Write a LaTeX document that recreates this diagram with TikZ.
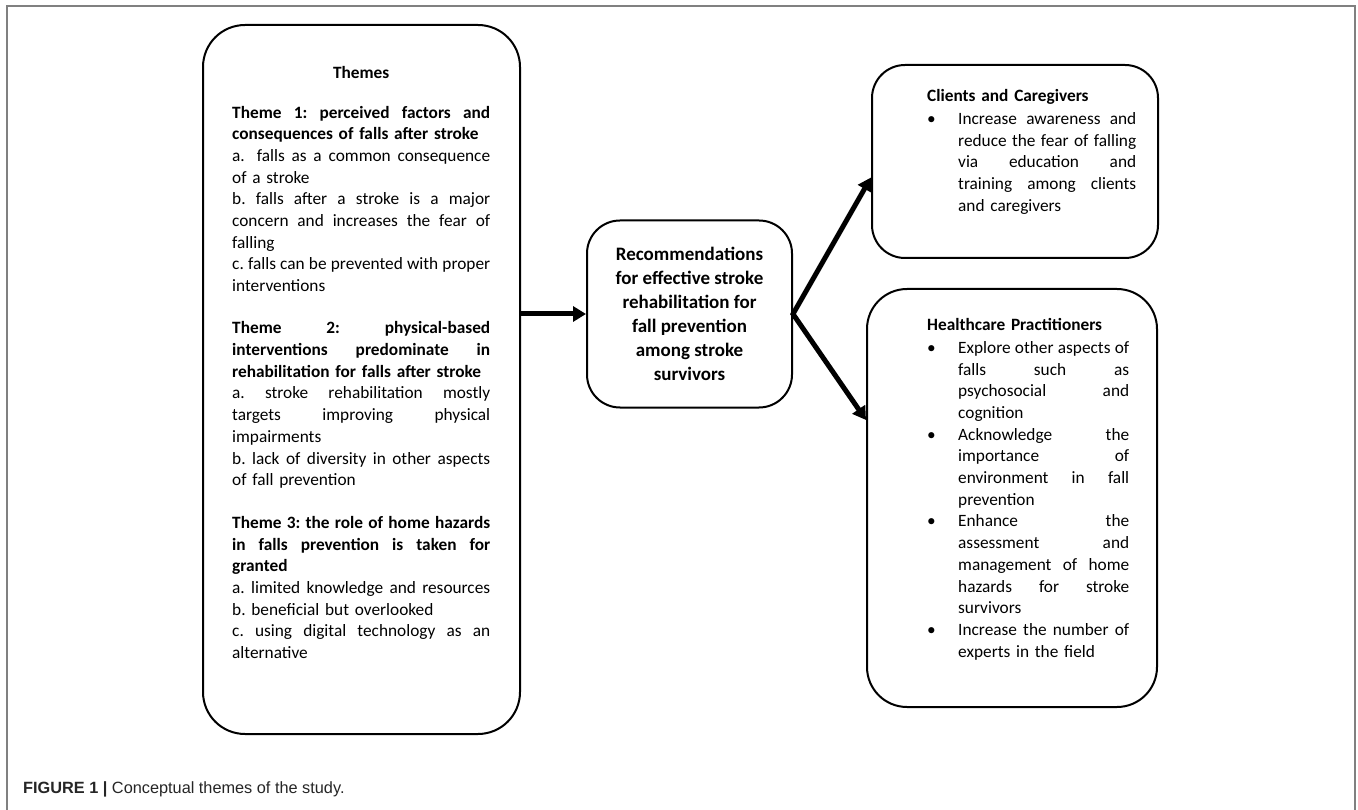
\documentclass[tikz,border=0pt]{standalone}
\usepackage{fontspec}
\setmainfont{Carlito}
\newfontfamily\capfont{Liberation Sans}
\usetikzlibrary{arrows.meta,calc}
\newcommand\jl[2]{\makebox[#1][s]{\spaceskip=0.23em plus 1fil\xspaceskip=\spaceskip #2}}
\begin{document}
\begin{tikzpicture}[x=1pt,y=-1pt,
  box/.style={draw,line width=2pt,rounded corners=#1,inner sep=0pt},
  body/.style={inner sep=0pt,anchor=north west,align=left,font=\fontsize{17.3}{21.7}\selectfont\frenchspacing},
  arr/.style={line width=5pt,-{Triangle[length=13pt,width=15pt]}},
  frame/.style={draw=black!50,line width=1.5pt}]
\useasboundingbox[fill=white] (0,0) rectangle (1358,810);
\draw[frame] (7,810) -- (7,6) -- (1355,6) -- (1355,810);

% boxes
\node[box=42pt,minimum width=317pt,minimum height=709pt] (themes) at (361.5,379.5) {};
\node[box=33pt,minimum width=205pt,minimum height=187pt,align=center,
      font=\fontsize{19}{24}\selectfont\bfseries] (mid) at (689.5,314)
  {Recommendations\\for effective stroke\\rehabilitation for\\fall prevention\\among stroke\\survivors};
\node[box=33pt,minimum width=286pt,minimum height=193pt] (clients) at (1015,161.5) {};
\node[box=40pt,minimum width=290pt,minimum height=418pt] (hc) at (1012,498) {};

% themes text
\node[body,text width=258pt] (themestext) at (232,63) {%
\makebox[258pt]{\strut\textbf{Themes}}\\[18pt]
\jl{258pt}{\textbf{Theme 1: perceived factors and}}\\
\textbf{consequences of falls after stroke}\\
\jl{258pt}{a.\hspace{12pt}falls as a common consequence}\\
of a stroke\\
\jl{258pt}{b. falls after a stroke is a major}\\
\jl{258pt}{concern and increases the fear of}\\
falling\\
\jl{258pt}{c. falls can be prevented with proper}\\
interventions\\[20.5pt]
\jl{258pt}{\textbf{Theme 2: physical-based}}\\
\jl{258pt}{\textbf{interventions predominate in}}\\
\textbf{rehabilitation for falls after stroke}\\
\jl{258pt}{a. stroke rehabilitation mostly}\\
\jl{258pt}{targets improving physical}\\
impairments\\
\jl{258pt}{b. lack of diversity in other aspects}\\
of fall prevention\\[21pt]
\jl{258pt}{\textbf{Theme 3: the role of home hazards}}\\
\jl{258pt}{\textbf{in falls prevention is taken for}}\\
\textbf{granted}\\
\jl{258pt}{a. limited knowledge and resources}\\
b. beneficial but overlooked\\
\jl{258pt}{c. using digital technology as an}\\
alternative};

% clients text
\node[body,text width=209pt] (clientstext) at (927,86) {%
\strut\textbf{Clients and Caregivers}\\[1.3pt]
\makebox[31pt][l]{\textbullet}\jl{178pt}{Increase awareness and}\\
\hspace*{31pt}\jl{178pt}{reduce the fear of falling}\\
\hspace*{31pt}\jl{178pt}{via education and}\\
\hspace*{31pt}\jl{178pt}{training among clients}\\
\hspace*{31pt}and caregivers};

% healthcare text
\node[body,text width=209pt] (hctext) at (927,315) {%
\strut\textbf{Healthcare Practitioners}\\[1.3pt]
\makebox[31pt][l]{\textbullet}\jl{171pt}{Explore other aspects of}\\
\hspace*{31pt}\jl{171pt}{falls such as}\\
\hspace*{31pt}\jl{171pt}{psychosocial and}\\
\hspace*{31pt}cognition\\
\makebox[31pt][l]{\textbullet}\jl{171pt}{Acknowledge the}\\
\hspace*{31pt}\jl{171pt}{importance of}\\
\hspace*{31pt}\jl{171pt}{environment in fall}\\
\hspace*{31pt}prevention\\
\makebox[31pt][l]{\textbullet}\jl{171pt}{Enhance the}\\
\hspace*{31pt}\jl{171pt}{assessment and}\\
\hspace*{31pt}\jl{171pt}{management of home}\\
\hspace*{31pt}\jl{171pt}{hazards for stroke}\\
\hspace*{31pt}survivors\\
\makebox[31pt][l]{\textbullet}\jl{171pt}{Increase the number of}\\
\hspace*{31pt}experts in the field};

% connectors
\draw[arr] (themes.east |- mid.west) -- (mid.west);
\draw[line width=5pt,{Triangle[length=13pt,width=15pt]}-{Triangle[length=13pt,width=15pt]}]
  ($(clients.west)+(0,16)$) -- (mid.east) -- ($(hc.west)+(0,-78)$);

% caption
\node[inner sep=0pt,anchor=base west,text=black!85,font=\capfont\fontsize{16.3}{19}\selectfont] (caption) at (23,793)
  {\textbf{FIGURE 1 |} Conceptual themes of the study.};
\end{tikzpicture}
\end{document}
